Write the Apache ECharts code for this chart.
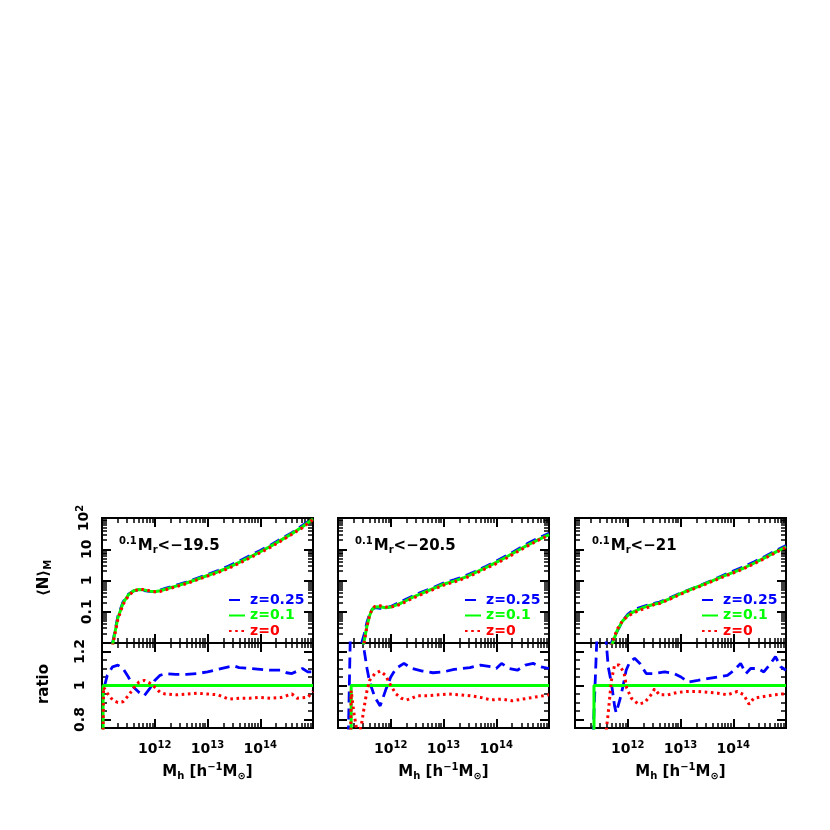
<!DOCTYPE html>
<html><head><meta charset="utf-8">
<script src="https://cdn.jsdelivr.net/npm/echarts@6.0.0/dist/echarts.min.js"></script>
<style>html,body{margin:0;padding:0;background:#fff}#c{width:830px;height:830px}</style>
</head><body><div id="c"></div>
<script>
// ---------------- DATA (x = log10 M_h, top y = log10 <N>_M, ratio y = ratio) ----------------
const SERIES_NAMES = ['z=0.25', 'z=0.1', 'z=0'];
const THRESHOLDS = ['19.5', '20.5', '21'];
const X_TICK_LABELS = [12, 13, 14];
const N_TICK_LABELS = ['0.1', '1', '10', '10{s|2}'];
const N_TICK_VALUES = [-1, 0, 1, 2];
const R_TICK_VALUES = [0.8, 1.0, 1.2];

// Panel 1  (Mr < -19.5)
const P1_X = [11.2,11.3,11.4,11.5,11.6,11.7,11.8,11.9,12.0,12.1,12.2,12.4,12.6,12.8,13.0,13.2,13.4,13.6,13.8,14.0,14.2,14.4,14.6,14.8,15.0];
const P1_BLUE = [-2.0,-1.15,-0.68,-0.44,-0.33,-0.31,-0.32,-0.35,-0.35,-0.31,-0.25,-0.15,-0.05,0.07,0.19,0.32,0.46,0.62,0.79,0.96,1.14,1.34,1.53,1.76,2.0];
const P1_GREEN = [-2.05,-1.2,-0.72,-0.46,-0.33,-0.29,-0.30,-0.34,-0.36,-0.33,-0.28,-0.18,-0.08,0.04,0.16,0.28,0.42,0.58,0.75,0.92,1.1,1.3,1.5,1.72,1.97];
const P1_RED = [-2.1,-1.25,-0.76,-0.49,-0.34,-0.28,-0.29,-0.33,-0.36,-0.35,-0.30,-0.20,-0.10,0.02,0.14,0.25,0.39,0.55,0.72,0.89,1.07,1.27,1.48,1.69,1.95];
const R1_BLUE_X = [11.05,11.1,11.2,11.3,11.4,11.5,11.6,11.7,11.8,11.9,12.0,12.1,12.2,12.4,12.6,12.8,13.0,13.2,13.4,13.5,13.6,13.8,14.0,14.2,14.4,14.5,14.6,14.8,14.9,15.0];
const R1_BLUE = [1.00,1.06,1.11,1.12,1.10,1.05,0.99,0.96,0.94,0.98,1.03,1.06,1.07,1.065,1.065,1.07,1.08,1.095,1.11,1.115,1.105,1.10,1.095,1.09,1.09,1.075,1.07,1.10,1.08,1.08];
const R1_GREEN_X = [11.02,11.02,15.0];
const R1_GREEN = [0.70,1.0,1.0];
const R1_RED_X = [11.02,11.03,11.1,11.2,11.3,11.4,11.5,11.6,11.7,11.8,11.9,12.0,12.1,12.2,12.4,12.6,12.8,13.0,13.2,13.4,13.6,13.8,14.0,14.2,14.4,14.6,14.7,14.9,15.0];
const R1_RED = [0.70,0.99,0.955,0.915,0.90,0.905,0.94,0.985,1.02,1.03,1.015,0.99,0.96,0.95,0.945,0.95,0.955,0.95,0.945,0.92,0.925,0.925,0.93,0.925,0.93,0.95,0.925,0.93,0.965];

// Panel 2  (Mr < -20.5)
const P2_X = [11.45,11.5,11.55,11.6,11.65,11.7,11.8,11.9,12.0,12.1,12.2,12.4,12.6,12.8,13.0,13.2,13.4,13.6,13.8,14.0,14.2,14.4,14.6,14.8,15.0];
const P2_BLUE = [-2.0,-1.7,-1.33,-1.08,-0.92,-0.87,-0.89,-0.89,-0.83,-0.75,-0.67,-0.51,-0.36,-0.23,-0.08,0.02,0.14,0.29,0.45,0.62,0.80,0.99,1.19,1.36,1.51];
const P2_GREEN = [-2.3,-1.9,-1.45,-1.12,-0.92,-0.85,-0.84,-0.87,-0.85,-0.79,-0.72,-0.55,-0.40,-0.26,-0.12,-0.02,0.10,0.25,0.41,0.58,0.76,0.95,1.14,1.31,1.47];
const P2_RED = [-2.4,-1.95,-1.46,-1.11,-0.9,-0.83,-0.81,-0.85,-0.85,-0.81,-0.75,-0.58,-0.43,-0.29,-0.15,-0.05,0.07,0.22,0.38,0.54,0.72,0.92,1.11,1.29,1.45];
const R2_BLUE_X = [11.19,11.24,11.3,11.4,11.45,11.5,11.55,11.6,11.7,11.8,11.9,12.0,12.1,12.25,12.4,12.6,12.8,13.0,13.2,13.5,13.7,13.9,14.0,14.1,14.25,14.4,14.55,14.7,14.85,15.0];
const R2_BLUE = [0.60,1.40,1.60,1.50,1.35,1.20,1.10,1.02,0.93,0.88,0.97,1.05,1.10,1.13,1.10,1.085,1.075,1.08,1.095,1.105,1.12,1.11,1.10,1.13,1.10,1.09,1.12,1.13,1.11,1.10];
const R2_GREEN_X = [11.25,11.25,15.0];
const R2_GREEN = [0.70,1.0,1.0];
const R2_RED_X = [11.24,11.25,11.3,11.35,11.4,11.45,11.5,11.55,11.6,11.7,11.8,11.9,12.0,12.1,12.2,12.3,12.4,12.5,12.7,12.9,13.1,13.3,13.5,13.7,13.9,14.1,14.3,14.5,14.7,14.9,15.0];
const R2_RED = [0.70,0.97,0.84,0.75,0.72,0.78,0.88,0.97,1.03,1.07,1.085,1.06,1.00,0.95,0.925,0.915,0.925,0.94,0.94,0.945,0.95,0.945,0.94,0.93,0.915,0.92,0.91,0.92,0.93,0.94,0.945];

// Panel 3  (Mr < -21)
const P3_X = [11.65,11.7,11.8,11.9,12.0,12.1,12.2,12.3,12.4,12.5,12.6,12.8,13.0,13.2,13.4,13.6,13.8,14.0,14.2,14.4,14.6,14.8,15.0];
const P3_BLUE = [-2.2,-1.95,-1.63,-1.3,-1.08,-0.95,-0.88,-0.83,-0.78,-0.73,-0.69,-0.55,-0.40,-0.27,-0.14,0.01,0.16,0.30,0.44,0.60,0.77,0.95,1.12];
const P3_GREEN = [-2.4,-2.05,-1.6,-1.3,-1.12,-1.01,-0.93,-0.86,-0.81,-0.76,-0.72,-0.58,-0.42,-0.28,-0.15,-0.01,0.13,0.26,0.40,0.56,0.73,0.91,1.08];
const P3_RED = [-2.5,-2.0,-1.56,-1.29,-1.14,-1.05,-0.97,-0.91,-0.85,-0.77,-0.74,-0.60,-0.44,-0.30,-0.17,-0.03,0.11,0.24,0.38,0.54,0.71,0.89,1.06];
const R3_BLUE_X = [11.33,11.43,11.5,11.58,11.63,11.69,11.75,11.78,11.85,11.91,11.97,12.04,12.13,12.23,12.35,12.51,12.7,12.88,13.01,13.14,13.33,13.51,13.7,13.89,14.02,14.14,14.24,14.33,14.46,14.58,14.71,14.8,14.9,15.0];
const R3_BLUE = [0.60,1.40,1.50,1.30,1.11,1.015,0.88,0.84,0.915,0.995,1.09,1.14,1.16,1.13,1.07,1.07,1.08,1.07,1.05,1.02,1.03,1.04,1.05,1.06,1.09,1.13,1.07,1.10,1.10,1.08,1.13,1.17,1.11,1.09];
const R3_GREEN_X = [11.36,11.36,15.0];
const R3_GREEN = [0.70,1.0,1.0];
const R3_RED_X = [11.58,11.63,11.69,11.75,11.84,11.93,11.98,12.07,12.2,12.32,12.44,12.51,12.6,12.76,12.95,13.14,13.33,13.51,13.7,13.89,14.08,14.2,14.3,14.39,14.58,14.77,14.93,15.0];
const R3_RED = [0.70,0.84,1.03,1.12,1.12,1.075,0.985,0.925,0.89,0.90,0.945,0.98,0.945,0.945,0.96,0.965,0.965,0.96,0.955,0.945,0.965,0.945,0.89,0.925,0.935,0.945,0.95,0.95];

// ---------------- LAYOUT / STYLE ----------------
const FONT = '"DejaVu Sans", "Liberation Sans", sans-serif';
const COLORS = ['#0000ff', '#00ff00', '#ff0000'];
const LINE_TYPES = [[11, 6], 'solid', [2.6, 3.6]];
const LINE_WIDTHS = [2.8, 3, 3];
const PANEL_LEFT = [102, 338, 575];
const PANEL_W = 211, TOP_Y = 518, TOP_H = 125, RAT_H = 85;

const zip = (xs, ys) => xs.map((x, i) => [x, ys[i]]);
const X_MAJOR = [11, 12, 13, 14, 15];
const X_MINOR = []; for (let n = 11; n < 15; n++) for (let k = 2; k < 10; k++) X_MINOR.push(n + Math.log10(k));
const N_MAJOR = [-2, -1, 0, 1, 2];
const N_MINOR = []; for (let n = -2; n < 2; n++) for (let k = 2; k < 10; k++) N_MINOR.push(n + Math.log10(k));
const R_MAJOR = [0.8, 1.0, 1.2];
const R_MINOR = [0.85, 0.9, 0.95, 1.05, 1.1, 1.15];

const panels = [
  {top: [P1_X, [P1_BLUE, P1_GREEN, P1_RED]], ratio: [[R1_BLUE_X, R1_BLUE], [R1_GREEN_X, R1_GREEN], [R1_RED_X, R1_RED]]},
  {top: [P2_X, [P2_BLUE, P2_GREEN, P2_RED]], ratio: [[R2_BLUE_X, R2_BLUE], [R2_GREEN_X, R2_GREEN], [R2_RED_X, R2_RED]]},
  {top: [P3_X, [P3_BLUE, P3_GREEN, P3_RED]], ratio: [[R3_BLUE_X, R3_BLUE], [R3_GREEN_X, R3_GREEN], [R3_RED_X, R3_RED]]}
];

const bold = (size) => ({fontSize: size, fontWeight: 'bold', fontFamily: FONT, color: '#000', fill: '#000'});
const grids = [], xAxes = [], yAxes = [], series = [], legends = [], graphics = [];

function tickStyle(w) { return {color: '#000', width: w}; }
function xAxisDef(g, pos, ticks, len, w, label) {
  const a = {type: 'value', gridIndex: g, position: pos, min: 11, max: 15, interval: 1,
    axisLine: {show: false, onZero: false}, splitLine: {show: false},
    axisTick: {show: true, inside: true, length: len, customValues: ticks, lineStyle: tickStyle(w)},
    axisLabel: {show: false}};
  if (label) {
    a.axisLabel = {show: true, customValues: X_TICK_LABELS, margin: 12,
      formatter: v => '{b|10}{s|' + Math.round(v) + '}',
      rich: {b: bold(14), s: Object.assign(bold(10), {padding: [0, 0, 9, 0]})}};
    a.name = '{m|M}{sb|h}{m| [h}{sp|−1}{m|M}{sb|⊙}{m|]}';
    a.nameLocation = 'middle';
    a.nameGap = 34;
    a.nameTextStyle = {rich: {m: bold(15), sb: Object.assign(bold(10), {padding: [9, 0, 0, 0]}), sp: Object.assign(bold(10), {padding: [0, 0, 10, 0]})}};
  }
  return a;
}
function yAxisDef(g, pos, min, max, ticks, len, w, label) {
  const a = {type: 'value', gridIndex: g, position: pos, min: min, max: max,
    axisLine: {show: false, onZero: false}, splitLine: {show: false},
    axisTick: {show: true, inside: true, length: len, customValues: ticks, lineStyle: tickStyle(w)},
    axisLabel: {show: false}};
  if (label) a.axisLabel = label;
  return a;
}

panels.forEach((p, i) => {
  const L = PANEL_LEFT[i];
  const gTop = grids.length;
  grids.push({left: L, top: TOP_Y, width: PANEL_W, height: TOP_H, show: true, borderColor: '#000', borderWidth: 2, backgroundColor: 'transparent'});
  const gRat = grids.length;
  grids.push({left: L, top: TOP_Y + TOP_H, width: PANEL_W, height: RAT_H, show: true, borderColor: '#000', borderWidth: 2, backgroundColor: 'transparent'});

  [gTop, gRat].forEach((g, k) => {
    const isRatio = k === 1;
    const xi = xAxes.length, yi = yAxes.length;
    xAxes.push(xAxisDef(g, 'bottom', X_MAJOR, 9, 2, isRatio));
    xAxes.push(xAxisDef(g, 'top', X_MAJOR, 9, 2, false));
    xAxes.push(xAxisDef(g, 'bottom', X_MINOR, 5, 1.5, false));
    xAxes.push(xAxisDef(g, 'top', X_MINOR, 5, 1.5, false));
    let lab = null;
    if (i === 0) {
      lab = isRatio
        ? {show: true, customValues: R_TICK_VALUES, rotate: 90, margin: 15,
           formatter: v => (Math.abs(v - 1) < 1e-6 ? '1' : v.toFixed(1)), ...bold(14)}
        : {show: true, customValues: N_TICK_VALUES, rotate: 90, margin: 8,
           formatter: v => N_TICK_LABELS[N_TICK_VALUES.indexOf(Math.round(v))],
           ...bold(14), rich: {s: Object.assign(bold(10), {padding: [0, 0, 9, 0]})}};
    }
    const ymin = isRatio ? 0.75 : -2, ymax = isRatio ? 1.25 : 2;
    const maj = isRatio ? R_MAJOR : N_MAJOR, mnr = isRatio ? R_MINOR : N_MINOR;
    yAxes.push(yAxisDef(g, 'left', ymin, ymax, maj, 9, 2, lab));
    yAxes.push(yAxisDef(g, 'right', ymin, ymax, maj, 9, 2, null));
    yAxes.push(yAxisDef(g, 'left', ymin, ymax, mnr, 5, 1.5, null));
    yAxes.push(yAxisDef(g, 'right', ymin, ymax, mnr, 5, 1.5, null));

    for (let s = 0; s < 3; s++) {
      const data = isRatio ? zip(p.ratio[s][0], p.ratio[s][1]) : zip(p.top[0], p.top[1][s]);
      series.push({type: 'line', name: SERIES_NAMES[s], xAxisIndex: xi, yAxisIndex: yi, data: data,
        symbol: 'none', clip: true, silent: true, z: 3 + s,
        lineStyle: {color: COLORS[s], width: LINE_WIDTHS[s], type: LINE_TYPES[s], cap: 'butt'},
        itemStyle: {color: COLORS[s]}});
    }
  });

  legends.push({orient: 'vertical', left: L + 121, top: TOP_Y + 70, itemWidth: 16, itemHeight: 14, itemGap: 1.5,
    selectedMode: false, itemStyle: {opacity: 0},
    textStyle: {fontSize: 14, fontWeight: 'bold', fontFamily: FONT},
    data: SERIES_NAMES.map((n, s) => ({name: n, textStyle: {color: COLORS[s], fontSize: 14, fontWeight: 'bold', fontFamily: FONT}}))});

  graphics.push({type: 'text', x: L + 17, y: TOP_Y + 28, z: 10,
    style: {text: '{sp|0.1}{m|M}{sb|r}{m|<−' + THRESHOLDS[i] + '}', verticalAlign: 'middle', align: 'left',
      rich: {m: bold(15), sb: Object.assign(bold(10), {padding: [9, 0, 0, 0]}), sp: Object.assign(bold(10), {padding: [0, 1, 9, 0]})}}});
});

graphics.push({type: 'text', x: 44, y: 578, rotation: Math.PI / 2,
  style: {text: '{m|⟨N⟩}{sb|M}', align: 'center', verticalAlign: 'middle',
    rich: {m: bold(15), sb: Object.assign(bold(10), {padding: [9, 0, 0, 0]})}}});
graphics.push({type: 'text', x: 44, y: 684, rotation: Math.PI / 2,
  style: {text: 'ratio', align: 'center', verticalAlign: 'middle', font: 'bold 15px ' + FONT, fill: '#000'}});

const chart = echarts.init(document.getElementById('c'), null, {renderer: 'canvas'});
chart.setOption({
  animation: false,
  backgroundColor: '#fff',
  grid: grids, xAxis: xAxes, yAxis: yAxes, series: series, legend: legends, graphic: graphics
});
</script>
</body></html>
